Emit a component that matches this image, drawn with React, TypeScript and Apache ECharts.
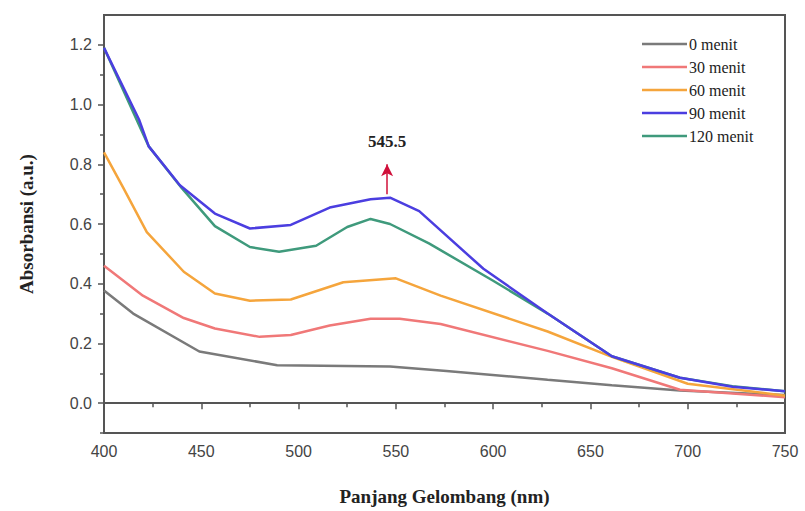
import React, { useEffect, useRef } from "react";
import * as echarts from "echarts";

const SERIES_NAMES = ["0 menit", "30 menit", "60 menit", "90 menit", "120 menit"];
const COLORS = ["#7a7a7a", "#f07878", "#f5a53c", "#4b3ee0", "#3f9a7c"];

const X0 = [400, 415, 449, 489, 547, 576, 628, 661, 696, 750];
const Y0 = [0.377, 0.3, 0.173, 0.127, 0.123, 0.108, 0.078, 0.06, 0.042, 0.027];

const X30 = [400, 420, 441, 457, 480, 496, 516, 537, 552, 573, 628, 661, 696, 750];
const Y30 = [0.46, 0.36, 0.285, 0.25, 0.222, 0.228, 0.26, 0.283, 0.283, 0.265, 0.175, 0.117, 0.045, 0.02];

const X60 = [400, 410, 422, 441, 457, 475, 496, 523, 550, 573, 628, 661, 700, 750];
const Y60 = [0.84, 0.72, 0.573, 0.44, 0.367, 0.343, 0.347, 0.405, 0.418, 0.36, 0.24, 0.155, 0.065, 0.025];

const X90 = [400, 418, 423, 439, 457, 475, 496, 516, 537, 547, 562, 595, 628, 661, 696, 723, 750];
const Y90 = [1.19, 0.95, 0.86, 0.73, 0.635, 0.585, 0.597, 0.655, 0.683, 0.688, 0.643, 0.45, 0.3, 0.157, 0.085, 0.055, 0.04];

const X120 = [400, 423, 440, 457, 475, 490, 509, 525, 537, 547, 567, 600, 628, 661, 696, 723, 750];
const Y120 = [1.19, 0.86, 0.72, 0.593, 0.523, 0.507, 0.527, 0.59, 0.617, 0.6, 0.535, 0.41, 0.3, 0.157, 0.085, 0.057, 0.04];

const Y_LABELS = [0, 0.2, 0.4, 0.6, 0.8, 1.0, 1.2];
const Y_MINOR = [-0.1, 0.1, 0.3, 0.5, 0.7, 0.9, 1.1];
const PEAK = 545.5;

const XS = [X0, X30, X60, X90, X120];
const YS = [Y0, Y30, Y60, Y90, Y120];

const SERIF = "Liberation Serif";
const SANS = "Liberation Sans";

export default function App() {
  const ref = useRef<HTMLDivElement>(null);
  useEffect(() => {
    const chart = echarts.init(ref.current!, undefined, { renderer: "svg" });
    const series: any[] = SERIES_NAMES.map((name, i) => ({
      name,
      type: "line",
      data: XS[i].map((x, j) => [x, YS[i][j]]),
      symbol: "none",
      lineStyle: { color: COLORS[i], width: 2.5 },
      itemStyle: { color: COLORS[i] },
      z: i === 3 ? 3 : 2,
    }));
    series[3].markLine = {
      silent: true,
      symbol: ["none", "arrow"],
      symbolSize: [9, 12],
      lineStyle: { color: "#d0103a", width: 1.5, type: "solid" },
      label: {
        show: true,
        position: "end",
        formatter: String(PEAK),
        fontFamily: SERIF,
        fontWeight: "bold",
        fontSize: 17,
        color: "#222",
        distance: 14,
      },
      data: [[{ coord: [PEAK, 0.7] }, { coord: [PEAK, 0.8] }]],
    };
    const option: any = {
      animation: false,
      backgroundColor: "#fff",
      grid: {
        left: 104,
        right: 20,
        top: 15,
        bottom: 77,
        show: true,
        borderColor: "#555",
        borderWidth: 2,
      },
      legend: {
        orient: "vertical",
        left: 637,
        top: 31,
        icon: "rect",
        itemWidth: 45,
        itemHeight: 2.5,
        itemGap: 7,
        data: SERIES_NAMES,
        textStyle: { fontFamily: SERIF, fontSize: 16, color: "#222", lineHeight: 16, padding: [0, 0, 0, -3] },
      },
      xAxis: {
        type: "value",
        min: 400,
        max: 750,
        interval: 50,
        name: "Panjang Gelombang (nm)",
        nameLocation: "middle",
        nameGap: 54,
        nameTextStyle: { fontFamily: SERIF, fontWeight: "bold", fontSize: 19, color: "#222" },
        axisLine: { show: true, lineStyle: { color: "#555", width: 2 } },
        axisTick: { show: true, length: 6, lineStyle: { color: "#555", width: 1.5 } },
        minorTick: { show: true, splitNumber: 2, length: 4, lineStyle: { color: "#555", width: 1.5 } },
        axisLabel: { fontFamily: SANS, fontSize: 16, color: "#444", margin: 10 },
        splitLine: { show: false },
      },
      yAxis: [
        {
          type: "value",
          min: -0.1,
          max: 1.3,
          name: "Absorbansi (a.u.)",
          nameLocation: "middle",
          nameGap: 68,
          nameTextStyle: { fontFamily: SERIF, fontWeight: "bold", fontSize: 19, color: "#222" },
          axisLine: { show: true, lineStyle: { color: "#555", width: 2 } },
          axisTick: { show: true, length: 6, customValues: Y_LABELS, lineStyle: { color: "#555", width: 1.5 } },
          axisLabel: {
            fontFamily: SANS,
            fontSize: 16,
            color: "#444",
            margin: 12,
            customValues: Y_LABELS,
            formatter: (v: number) => v.toFixed(1),
          },
          splitLine: { show: false },
        },
        {
          type: "value",
          min: -0.1,
          max: 1.3,
          position: "left",
          axisLine: { show: false },
          axisTick: { show: true, length: 4, customValues: Y_MINOR, lineStyle: { color: "#555", width: 1.5 } },
          axisLabel: { show: false },
          splitLine: { show: false },
        },
      ],
      series,
    };
    chart.setOption(option);
    return () => chart.dispose();
  }, []);
  return (
    <div
      ref={ref}
      style={{ position: "fixed", left: 0, top: 0, width: 805, height: 511, background: "#fff" }}
    />
  );
}
